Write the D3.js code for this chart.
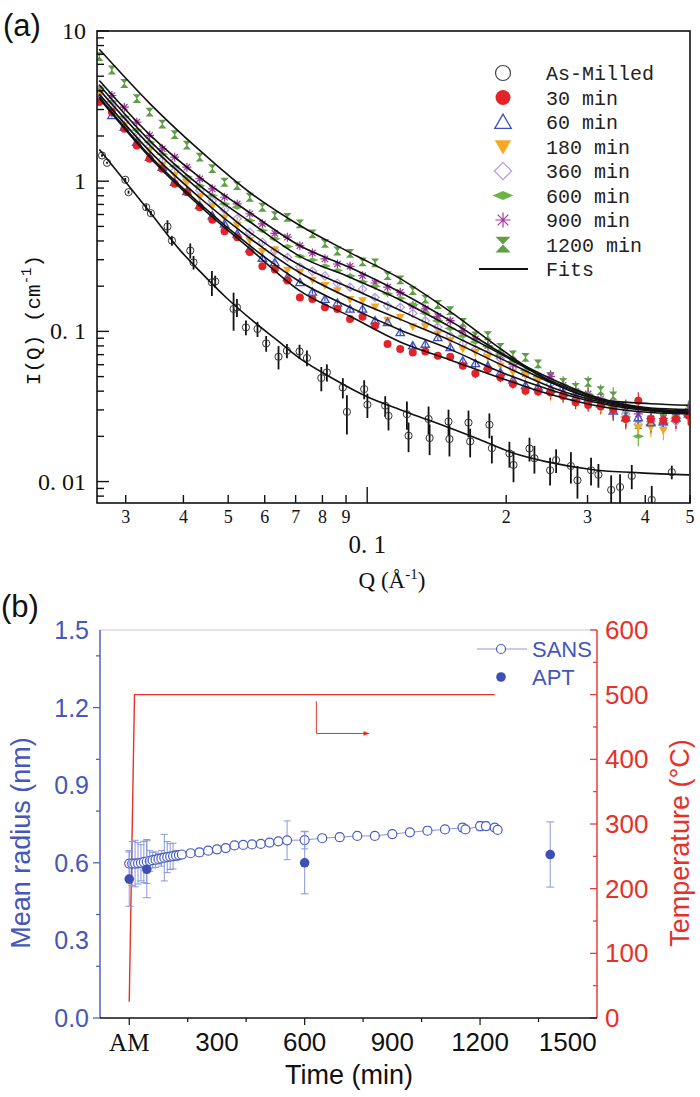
<!DOCTYPE html>
<html><head><meta charset="utf-8">
<script src="https://cdn.jsdelivr.net/npm/d3@7"></script>
<style>body{margin:0;background:#fff}svg{display:block}</style>
</head><body><svg id="c" width="700" height="1097"></svg>
<script>
// ---------------- DATA: panel (a) ----------------
const qGrid = [0.0263,0.0280,0.0298,0.0317,0.0338,0.0360,0.0383,0.0407,0.0434,0.0462,0.0491,0.0523,0.0557,0.0593,0.0631,0.0672,0.0715,0.0761,0.0810,0.0862,0.0918,0.0977,0.1040,0.1107,0.1179,0.1255,0.1336,0.1422,0.1513,0.1611,0.1715,0.1825,0.1943,0.2068,0.2202,0.2344,0.2495,0.2656,0.2827,0.3009,0.3203,0.3410,0.3630,0.3864,0.4113,0.4378,0.4661,0.4961];
const relErr = [0.03,0.03,0.03,0.03,0.03,0.03,0.03,0.03,0.03,0.03,0.03,0.03,0.03,0.03,0.03,0.03,0.03,0.03,0.03,0.03,0.05,0.05,0.05,0.05,0.05,0.05,0.05,0.05,0.05,0.05,0.07,0.07,0.07,0.07,0.07,0.07,0.1,0.1,0.1,0.1,0.1,0.14,0.14,0.14,0.14,0.14,0.14,0.14];
const I30 = [3.365,2.884,2.234,1.73,1.409,1.211,0.962,0.845,0.671,0.553,0.465,0.424,0.337,0.271,0.258,0.218,0.168,0.164,0.1445,0.141,0.121,0.125,0.109,0.0824,0.0764,0.0724,0.0735,0.0689,0.0678,0.059,0.0525,0.0561,0.0493,0.0446,0.0403,0.0398,0.0392,0.0372,0.0337,0.0324,0.0316,0.0302,0.0261,0.0345,0.0261,0.0256,0.0261,0.0275];
const I60 = [3.54,2.74,2.29,1.82,1.445,1.239,0.984,0.857,0.689,0.590,0.520,0.446,0.355,0.308,0.288,0.229,0.212,0.183,0.164,0.155,0.141,0.141,0.118,0.115,0.0984,0.0804,0.0824,0.0912,0.0782,0.0638,0.0612,0.059,0.0533,0.0475,0.0437,0.0427,0.0413,0.0389,0.0363,0.0355,0.0331,0.0296,0.0267,0.0267,0.0247,0.0251,0.0267,0.0282];
const I180 = [3.72,2.95,2.34,1.82,1.603,1.274,1.091,0.984,0.782,0.678,0.570,0.507,0.403,0.341,0.349,0.256,0.247,0.219,0.202,0.187,0.163,0.160,0.1455,0.119,0.124,0.1074,0.1074,0.0959,0.0867,0.0764,0.0724,0.0671,0.059,0.0533,0.0507,0.0468,0.0383,0.0372,0.0345,0.0331,0.0309,0.0295,0.0257,0.0229,0.0229,0.0219,0.0263,0.0275];
const I360 = [4.03,3.16,2.51,2.00,1.70,1.38,1.175,1.023,0.871,0.741,0.646,0.562,0.457,0.392,0.345,0.311,0.269,0.251,0.234,0.209,0.197,0.191,0.168,0.148,0.1445,0.132,0.1175,0.107,0.0933,0.0832,0.0759,0.0708,0.0661,0.0575,0.0525,0.049,0.0447,0.0417,0.038,0.0363,0.0347,0.0331,0.0282,0.024,0.0251,0.024,0.0251,0.0282];
const I600 = [4.17,3.39,2.69,2.19,1.82,1.51,1.259,1.072,0.933,0.804,0.706,0.671,0.547,0.469,0.413,0.367,0.316,0.299,0.272,0.254,0.234,0.214,0.1995,0.178,0.166,0.151,0.132,0.1175,0.1047,0.0933,0.0851,0.0794,0.0708,0.0631,0.055,0.0501,0.0468,0.0437,0.0407,0.038,0.0355,0.0316,0.0269,0.02,0.024,0.0245,0.0263,0.0275];
const I900 = [4.13,3.72,3.11,2.47,2.02,1.644,1.445,1.239,1.038,0.889,0.782,0.706,0.607,0.52,0.45,0.424,0.372,0.333,0.304,0.281,0.271,0.235,0.21,0.197,0.182,0.148,0.141,0.126,0.1178,0.1012,0.0891,0.0804,0.0692,0.0603,0.0525,0.0501,0.0501,0.0437,0.0398,0.0383,0.0355,0.0324,0.0309,0.0282,0.0263,0.0263,0.0269,0.0295];
const I1200 = [6.76,5.50,4.47,3.55,2.88,2.40,2.04,1.738,1.445,1.211,0.984,0.935,0.782,0.671,0.59,0.575,0.52,0.446,0.385,0.343,0.331,0.29,0.286,0.235,0.22,0.187,0.164,0.151,0.1374,0.1148,0.0933,0.0935,0.0782,0.0697,0.0671,0.0607,0.0501,0.0457,0.0424,0.0457,0.0403,0.0372,0.0274,0.024,0.0254,0.0263,0.0263,0.0304];

const fitQ = [0.0263,0.0338,0.0434,0.0557,0.0715,0.0918,0.1179,0.1513,0.1943,0.2495,0.3203,0.4113,0.4961];
const fit30 = [3.55,1.445,0.684,0.355,0.186,0.126,0.0851,0.0646,0.049,0.038,0.0316,0.0288,0.0282];
const fit60 = [3.63,1.479,0.708,0.372,0.214,0.1445,0.1023,0.0759,0.0537,0.0407,0.0331,0.0295,0.0285];
const fit180 = [3.80,1.585,0.776,0.417,0.2455,0.166,0.1202,0.0871,0.0603,0.0427,0.0339,0.0299,0.0288];
const fit360 = [4.07,1.738,0.871,0.457,0.2754,0.195,0.138,0.0955,0.0661,0.0457,0.0347,0.0302,0.0292];
const fit600 = [4.37,1.862,0.933,0.537,0.316,0.229,0.162,0.1072,0.0708,0.0470,0.0355,0.0305,0.0295];
const fit900 = [4.68,2.04,1.059,0.617,0.3715,0.266,0.182,0.1175,0.0724,0.0485,0.0357,0.0309,0.0302];
const fit1200 = [7.55,3.30,1.602,0.841,0.5066,0.3347,0.2245,0.1353,0.0767,0.0462,0.0350,0.0330,0.0322];

const amQ = [0.02666,0.02733,0.02994,0.03043,0.03323,0.03402,0.03695,0.03777,0.04139,0.04207,0.04611,0.04688,0.05137,0.05224,0.05463,0.05788,0.06044,0.06427,0.06702,0.07137,0.07405,0.07955,0.0818,0.08857,0.09038,0.09851,0.1001,0.1094,0.1112,0.1219,0.1229,0.1358,0.1365,0.15,0.1507,0.1657,0.1671,0.1839,0.1862,0.2032,0.2074,0.2246,0.2302,0.2489,0.2565,0.2761,0.2853,0.3053,0.3167,0.3375,0.3528,0.374,0.4132,0.4566];
const amI = [1.483,1.326,1.022,0.845,0.671,0.612,0.499,0.402,0.345,0.288,0.212,0.215,0.141,0.1445,0.1063,0.1038,0.0832,0.0678,0.0743,0.0735,0.0665,0.0489,0.0533,0.0423,0.0291,0.0413,0.0325,0.032,0.0274,0.0281,0.0202,0.0261,0.0195,0.0251,0.0192,0.0247,0.0185,0.0239,0.0167,0.0154,0.0129,0.0166,0.0143,0.0119,0.0139,0.0127,0.0102,0.0119,0.0111,0.0088,0.0092,0.0109,0.00755,0.01155];
const amErr = [0.03,0.02,0.03,0.02,0.03,0.02,0.05,0.03,0.04,0.03,0.04,0.02,0.04,0.02,0.012,0.012,0.01,0.012,0.008,0.008,0.008,0.009,0.007,0.0065,0.0085,0.006,0.006,0.005,0.0055,0.006,0.0045,0.0055,0.0045,0.005,0.0045,0.005,0.004,0.0045,0.0035,0.003,0.003,0.003,0.003,0.0025,0.0025,0.003,0.0025,0.0025,0.002,0.0022,0.002,0.002,0.0018,0.0012];
const amFitQ = [0.0263,0.0339,0.0394,0.0435,0.0493,0.0558,0.0632,0.0716,0.0844,0.1,0.1179,0.139,0.1756,0.207,0.2453,0.3085,0.3899,0.4977];
const amFitI = [1.627,0.618,0.345,0.25,0.170,0.1215,0.0894,0.0658,0.0484,0.0367,0.0301,0.025,0.019,0.0155,0.01353,0.012,0.01143,0.01108];

const legendA = ["As-Milled","30 min","60 min","180 min","360 min","600 min","900 min","1200 min","Fits"];
const yMajorA = [0.01,0.1,1,10];
const yMajorLabelA = ["0. 01","0. 1","1","10"];

// ---------------- DATA: panel (b) ----------------
const sansTime = [0,10,20,30,40,50,60,70,80,90,100,110,120,130,140,150,160,170,180,210,240,270,300,330,360,390,420,450,480,510,540,600,660,720,780,840,900,960,1020,1080,1140,1150,1200,1220,1250,1260];
const sansRadius = [0.597,0.597,0.597,0.598,0.600,0.603,0.605,0.607,0.610,0.612,0.615,0.617,0.620,0.622,0.624,0.626,0.628,0.630,0.632,0.637,0.640,0.647,0.652,0.657,0.667,0.669,0.671,0.673,0.678,0.683,0.687,0.688,0.695,0.699,0.704,0.704,0.711,0.718,0.724,0.729,0.736,0.729,0.742,0.742,0.736,0.727];
const sansErr = [0.05,0.085,0.09,0.08,0.07,0.08,0.085,0.04,0.03,0.03,0.02,0.03,0.09,0.06,0.05,0.05,0.02,0.015,0.012,0.012,0.015,0.014,0.015,0.014,0.014,0.013,0.012,0.012,0.012,0.012,0.075,0.034,0.012,0.015,0.012,0.012,0.014,0.012,0.015,0.012,0.015,0.012,0.018,0.016,0.012,0.008];
const aptTime = [0,60,600,1440];
const aptRadius = [0.537,0.575,0.600,0.632];
const aptErr = [0.105,0.11,0.12,0.126];
const tempTime = [0,18,1250];
const tempC = [25,500,500];
const arrowTime = [640,640,820];
const arrowTemp = [490,440,440];
const xTicksB = [0,300,600,900,1200,1500];
const xTickLabelsB = ["AM","300","600","900","1200","1500"];
const yTicksB = [0,0.3,0.6,0.9,1.2,1.5];
const yTicksT = [0,100,200,300,400,500,600];

// ---------------- DRAW ----------------
const svg = d3.select('#c');
const serif = "'Liberation Serif','DejaVu Serif',serif";
const mono = "'Liberation Mono','DejaVu Sans Mono',monospace";
const sans = "'Liberation Sans',Arial,sans-serif";

function shape(type, s) {
  switch (type) {
    case 'circle': return d3.symbol(d3.symbolCircle, Math.PI * s * s)();
    case 'triUp': return `M0,${-s*1.05}L${s*1.1},${s*0.85}L${-s*1.1},${s*0.85}Z`;
    case 'triDown': return `M0,${s*1.05}L${s*1.1},${-s*0.85}L${-s*1.1},${-s*0.85}Z`;
    case 'diamond': return `M0,${-s*1.15}L${s*1.15},0L0,${s*1.15}L${-s*1.15},0Z`;
    case 'flatDiamond': return `M${-s*1.4},0L0,${-s*0.6}L${s*1.4},0L0,${s*0.6}Z`;
    case 'asterisk': { const a = s*0.71; return `M${-s},0L${s},0M0,${-s}L0,${s}M${-a},${-a}L${a},${a}M${-a},${a}L${a},${-a}`; }
    case 'hourglass': return `M${-s},${-s*1.05}L${s},${-s*1.05}L0,0ZM${-s},${s*1.05}L${s},${s*1.05}L0,0Z`;
  }
}

const series = [
  {I: I1200, fit: fit1200, type: 'hourglass', fill: '#5f9e45', stroke: 'none', sw: 0, s: 4.2},
  {I: I900, fit: fit900, type: 'asterisk', fill: 'none', stroke: '#a3379f', sw: 1.2, s: 4.5},
  {I: I600, fit: fit600, type: 'flatDiamond', fill: '#6cb348', stroke: 'none', sw: 0, s: 4.2},
  {I: I360, fit: fit360, type: 'diamond', fill: 'none', stroke: '#b39ce0', sw: 1.2, s: 3.6},
  {I: I180, fit: fit180, type: 'triDown', fill: '#f7a823', stroke: 'none', sw: 0, s: 4},
  {I: I60, fit: fit60, type: 'triUp', fill: 'none', stroke: '#3b4fc4', sw: 1.3, s: 3.8},
  {I: I30, fit: fit30, type: 'circle', fill: '#e3232a', stroke: 'none', sw: 0, s: 4}
];
const legendStyle = [
  {type: 'circle', fill: 'none', stroke: '#444', sw: 1.2},
  {type: 'circle', fill: '#e3232a', stroke: 'none', sw: 0},
  {type: 'triUp', fill: 'none', stroke: '#3b4fc4', sw: 1.3},
  {type: 'triDown', fill: '#f7a823', stroke: 'none', sw: 0},
  {type: 'diamond', fill: 'none', stroke: '#b39ce0', sw: 1.2},
  {type: 'flatDiamond', fill: '#6cb348', stroke: 'none', sw: 0},
  {type: 'asterisk', fill: 'none', stroke: '#a3379f', sw: 1.2},
  {type: 'hourglass', fill: '#5f9e45', stroke: 'none', sw: 0}
];

// ---- panel (a)
const xA = d3.scaleLog().domain([0.026, 0.5]).range([97, 690]);
const yA = d3.scaleLog().domain([0.0072, 10]).range([503, 31]);
const gA = svg.append('g');
svg.append('defs').append('clipPath').attr('id', 'clipA')
  .append('rect').attr('x', 97).attr('y', 31).attr('width', 593).attr('height', 472);
const plotA = gA.append('g').attr('clip-path', 'url(#clipA)');
const yClamp = v => yA(Math.max(v, 0.0072));

amQ.forEach((q, i) => {
  plotA.append('line').attr('x1', xA(q)).attr('x2', xA(q))
    .attr('y1', yClamp(amI[i] - amErr[i])).attr('y2', yClamp(amI[i] + amErr[i]))
    .attr('stroke', '#111').attr('stroke-width', 1.8);
});
amQ.forEach((q, i) => {
  plotA.append('circle').attr('cx', xA(q)).attr('cy', yA(amI[i])).attr('r', 3.6)
    .attr('fill', 'none').attr('stroke', '#333').attr('stroke-width', 1);
});

series.forEach(sr => {
  const col = sr.fill !== 'none' ? sr.fill : sr.stroke;
  qGrid.forEach((q, i) => {
    const v = sr.I[i], e = v * relErr[i];
    plotA.append('line').attr('x1', xA(q)).attr('x2', xA(q))
      .attr('y1', yA(v - e)).attr('y2', yA(v + e))
      .attr('stroke', col).attr('stroke-width', 1.2);
  });
});
series.forEach(sr => {
  qGrid.forEach((q, i) => {
    plotA.append('path').attr('d', shape(sr.type, sr.s))
      .attr('transform', `translate(${xA(q)},${yA(sr.I[i])})`)
      .attr('fill', sr.fill).attr('stroke', sr.stroke).attr('stroke-width', sr.sw);
  });
});

const fitLine = d3.line().x(d => xA(d[0])).y(d => yA(d[1])).curve(d3.curveMonotoneX);
series.forEach(sr => {
  plotA.append('path').attr('d', fitLine(fitQ.map((q, i) => [q, sr.fit[i]])))
    .attr('fill', 'none').attr('stroke', '#111').attr('stroke-width', 1.6);
});
plotA.append('path').attr('d', fitLine(amFitQ.map((q, i) => [q, amFitI[i]])))
  .attr('fill', 'none').attr('stroke', '#111').attr('stroke-width', 1.6);

gA.append('rect').attr('x', 97).attr('y', 31).attr('width', 593).attr('height', 472)
  .attr('fill', 'none').attr('stroke', '#111').attr('stroke-width', 1.6);

yA.ticks().forEach(t => {
  const major = yMajorA.some(m => Math.abs(m - t) / m < 1e-6);
  gA.append('line').attr('x1', 97).attr('x2', 97 + (major ? 12 : 7))
    .attr('y1', yA(t)).attr('y2', yA(t)).attr('stroke', '#111').attr('stroke-width', 1.4);
});
yMajorA.forEach((t, i) => {
  gA.append('text').attr('x', 86).attr('y', yA(t) + 8).attr('text-anchor', 'end')
    .attr('font-family', serif).attr('font-size', 24).attr('fill', '#111')
    .text(yMajorLabelA[i]);
});
xA.ticks().forEach(t => {
  const isMajor = Math.abs(t - 0.1) < 1e-9;
  gA.append('line').attr('x1', xA(t)).attr('x2', xA(t))
    .attr('y1', 503).attr('y2', 503 - (isMajor ? 16 : 8))
    .attr('stroke', '#111').attr('stroke-width', 1.4);
  if (!isMajor) {
    const lab = t < 0.1 ? Math.round(t * 100) : Math.round(t * 10);
    gA.append('text').attr('x', xA(t)).attr('y', 523).attr('text-anchor', 'middle')
      .attr('font-family', serif).attr('font-size', 18).attr('fill', '#111').text(lab);
  } else {
    gA.append('text').attr('x', xA(t)).attr('y', 553).attr('text-anchor', 'middle')
      .attr('font-family', serif).attr('font-size', 25).attr('fill', '#111').text('0. 1');
  }
});
const xt = gA.append('text').attr('x', 392).attr('y', 588).attr('text-anchor', 'middle')
  .attr('font-family', serif).attr('font-size', 23).attr('fill', '#111');
xt.append('tspan').text('Q (Å');
xt.append('tspan').attr('dy', -9).attr('font-size', 15).text('-1');
xt.append('tspan').attr('dy', 9).text(')');
const yt = gA.append('text').attr('transform', 'translate(40,320) rotate(-90)').attr('text-anchor', 'middle')
  .attr('font-family', mono).attr('font-size', 21).attr('fill', '#111');
yt.append('tspan').text('I(Q) (cm');
yt.append('tspan').attr('dy', -9).attr('font-size', 14).text('-1');
yt.append('tspan').attr('dy', 9).text(')');
svg.append('text').attr('x', 3).attr('y', 36).attr('font-family', sans).attr('font-size', 31)
  .attr('fill', '#111').text('(a)');

legendA.forEach((lab, i) => {
  const y = 73 + i * 24.5;
  if (i < 8) {
    const st = legendStyle[i];
    gA.append('path').attr('d', shape(st.type, 7.5)).attr('transform', `translate(503,${y})`)
      .attr('fill', st.fill).attr('stroke', st.stroke).attr('stroke-width', st.sw);
  } else {
    gA.append('line').attr('x1', 479).attr('x2', 528).attr('y1', y).attr('y2', y)
      .attr('stroke', '#111').attr('stroke-width', 1.8);
  }
  gA.append('text').attr('x', 546).attr('y', y + 7).attr('font-family', mono)
    .attr('font-size', 20).attr('fill', '#222').text(lab);
});

// ---- panel (b)
const xB = d3.scaleLinear().domain([-100, 1600]).range([100, 597]);
const yB = d3.scaleLinear().domain([0, 1.5]).range([1018, 630]);
const yT = d3.scaleLinear().domain([0, 600]).range([1018, 630]);
const gB = svg.append('g');
const blue = '#4557b8', lblue = '#8a98da', red = '#e8302a';

gB.append('line').attr('x1', 100).attr('x2', 597).attr('y1', 630).attr('y2', 630)
  .attr('stroke', '#c8c8c8').attr('stroke-width', 1.2);

const tLine = d3.line().x(d => xB(d[0])).y(d => yT(d[1]));
gB.append('path').attr('d', tLine(tempTime.map((t, i) => [t, tempC[i]])))
  .attr('fill', 'none').attr('stroke', red).attr('stroke-width', 1.4);
svg.select('defs').append('marker').attr('id', 'arr').attr('viewBox', '0 0 10 10')
  .attr('refX', 9).attr('refY', 5).attr('markerWidth', 9).attr('markerHeight', 6)
  .attr('orient', 'auto').attr('markerUnits', 'userSpaceOnUse')
  .append('path').attr('d', 'M0,1L10,5L0,9Z').attr('fill', red);
gB.append('path').attr('d', tLine(arrowTime.map((t, i) => [t, arrowTemp[i]])))
  .attr('fill', 'none').attr('stroke', red).attr('stroke-width', 1).attr('marker-end', 'url(#arr)');

gB.append('path').attr('d', d3.line().x((d, i) => xB(sansTime[i])).y(d => yB(d))(sansRadius))
  .attr('fill', 'none').attr('stroke', lblue).attr('stroke-width', 1);
sansTime.forEach((t, i) => {
  const x = xB(t), y1 = yB(sansRadius[i] - sansErr[i]), y2 = yB(sansRadius[i] + sansErr[i]);
  gB.append('line').attr('x1', x).attr('x2', x).attr('y1', y1).attr('y2', y2).attr('stroke', lblue).attr('stroke-width', 1);
  [y1, y2].forEach(y => gB.append('line').attr('x1', x - 3.5).attr('x2', x + 3.5).attr('y1', y).attr('y2', y).attr('stroke', lblue).attr('stroke-width', 1));
});
sansTime.forEach((t, i) => {
  gB.append('circle').attr('cx', xB(t)).attr('cy', yB(sansRadius[i])).attr('r', 4.5)
    .attr('fill', '#fff').attr('stroke', '#4a5cc4').attr('stroke-width', 1.2);
});
aptTime.forEach((t, i) => {
  const x = xB(t), y1 = yB(aptRadius[i] - aptErr[i]), y2 = yB(aptRadius[i] + aptErr[i]);
  gB.append('line').attr('x1', x).attr('x2', x).attr('y1', y1).attr('y2', y2).attr('stroke', lblue).attr('stroke-width', 1);
  [y1, y2].forEach(y => gB.append('line').attr('x1', x - 4).attr('x2', x + 4).attr('y1', y).attr('y2', y).attr('stroke', lblue).attr('stroke-width', 1));
  gB.append('circle').attr('cx', x).attr('cy', yB(aptRadius[i])).attr('r', 4.8).attr('fill', '#3d4fb3');
});

gB.append('line').attr('x1', 100).attr('x2', 100).attr('y1', 630).attr('y2', 1018).attr('stroke', blue).attr('stroke-width', 1.4);
d3.ticks(0, 1.5, 10).forEach(t => {
  const major = yTicksB.some(m => Math.abs(m - t) < 1e-6);
  gB.append('line').attr('x1', 100).attr('x2', 100 - (major ? 7 : 4)).attr('y1', yB(t)).attr('y2', yB(t))
    .attr('stroke', blue).attr('stroke-width', 1.2);
});
yTicksB.forEach(t => {
  gB.append('text').attr('x', 89).attr('y', yB(t) + 9).attr('text-anchor', 'end')
    .attr('font-family', sans).attr('font-size', 25).attr('fill', blue).text(t.toFixed(1));
});
gB.append('text').attr('transform', 'translate(30,843) rotate(-90)').attr('text-anchor', 'middle')
  .attr('font-family', sans).attr('font-size', 27).attr('fill', blue).text('Mean radius (nm)');

gB.append('line').attr('x1', 597).attr('x2', 597).attr('y1', 630).attr('y2', 1018).attr('stroke', red).attr('stroke-width', 1.4);
d3.ticks(0, 600, 12).forEach(t => {
  const major = yTicksT.includes(t);
  gB.append('line').attr('x1', 597).attr('x2', 597 - (major ? 7 : 4)).attr('y1', yT(t)).attr('y2', yT(t))
    .attr('stroke', red).attr('stroke-width', 1.2);
});
yTicksT.forEach(t => {
  gB.append('text').attr('x', 605).attr('y', yT(t) + 9).attr('text-anchor', 'start')
    .attr('font-family', sans).attr('font-size', 26).attr('fill', red).text(t);
});
gB.append('text').attr('transform', 'translate(689,843) rotate(-90)').attr('text-anchor', 'middle')
  .attr('font-family', sans).attr('font-size', 27).attr('fill', red).text('Temperature (°C)');

gB.append('line').attr('x1', 100).attr('x2', 597).attr('y1', 1018).attr('y2', 1018).attr('stroke', '#111').attr('stroke-width', 1.4);
d3.ticks(0, 1500, 10).forEach(t => {
  const major = xTicksB.includes(t);
  gB.append('line').attr('x1', xB(t)).attr('x2', xB(t)).attr('y1', 1018).attr('y2', 1018 + (major ? 7 : 4))
    .attr('stroke', '#111').attr('stroke-width', 1.2);
});
xTicksB.forEach((t, i) => {
  gB.append('text').attr('x', xB(t)).attr('y', 1051).attr('text-anchor', 'middle')
    .attr('font-family', i === 0 ? serif : sans).attr('font-size', i === 0 ? 25 : 26)
    .attr('fill', '#111').text(xTickLabelsB[i]);
});
gB.append('text').attr('x', 349).attr('y', 1084).attr('text-anchor', 'middle')
  .attr('font-family', sans).attr('font-size', 27).attr('fill', '#111').text('Time (min)');
svg.append('text').attr('x', 1).attr('y', 617).attr('font-family', sans).attr('font-size', 31)
  .attr('fill', '#111').text('(b)');

gB.append('line').attr('x1', 477).attr('x2', 527).attr('y1', 649).attr('y2', 649).attr('stroke', lblue).attr('stroke-width', 1);
gB.append('circle').attr('cx', 501).attr('cy', 649).attr('r', 4.5).attr('fill', '#fff').attr('stroke', '#4a5cc4').attr('stroke-width', 1.2);
gB.append('text').attr('x', 532).attr('y', 657).attr('font-family', sans).attr('font-size', 22).attr('fill', blue).text('SANS');
gB.append('circle').attr('cx', 501).attr('cy', 677).attr('r', 4.8).attr('fill', '#3d4fb3');
gB.append('text').attr('x', 532).attr('y', 685).attr('font-family', sans).attr('font-size', 22).attr('fill', blue).text('APT');
</script></body></html>
